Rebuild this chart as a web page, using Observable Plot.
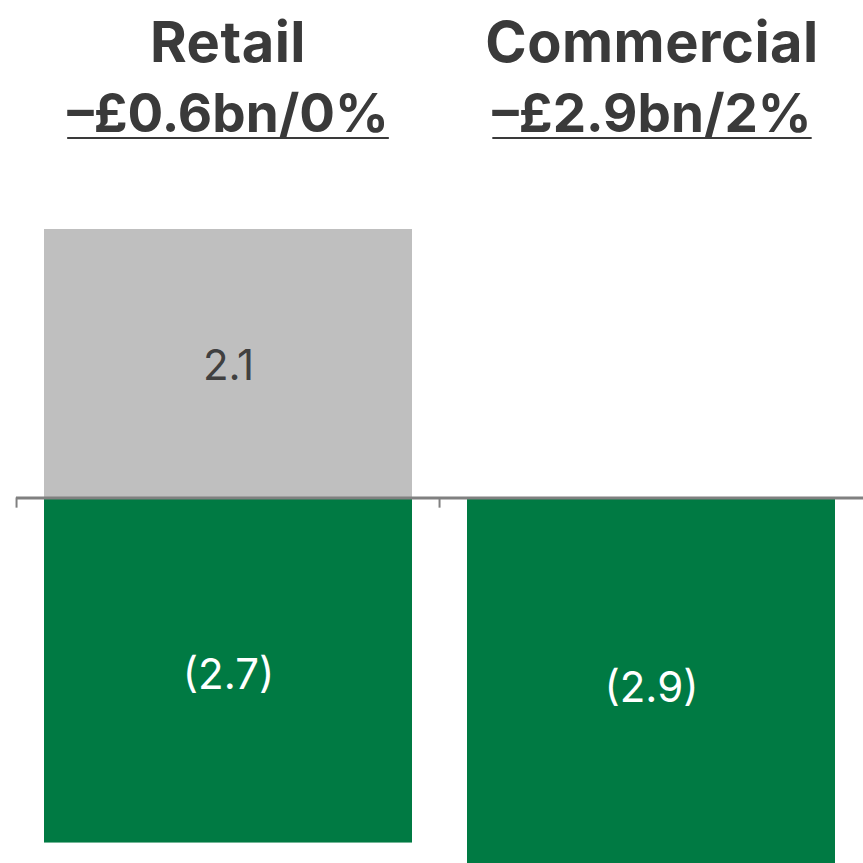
<!DOCTYPE html>
<html><head><meta charset="utf-8">
<script src="https://cdn.jsdelivr.net/npm/d3@7"></script>
<script src="https://cdn.jsdelivr.net/npm/@observablehq/plot@0.6"></script>
<style>
html,body{margin:0;padding:0;background:#fff;overflow:hidden}
#wrap{width:863px;height:863px;overflow:hidden}
#titles{display:flex;padding-left:16px;height:150px;box-sizing:border-box;padding-top:7px;font-family:Inter,sans-serif;font-weight:700;color:#3a3a3a;font-size:56px;letter-spacing:0.5px;line-height:70px}
#titles > div{width:424px;text-align:center;flex:none}
.sub{font-size:53px;letter-spacing:0;text-decoration:underline;text-decoration-thickness:2px;text-underline-offset:5px}
</style></head>
<body><div id="wrap"><div id="titles"></div><div id="chart"></div></div>
<script>
const categories = ["Retail", "Commercial"];
const totals = ["–£0.6bn/0%", "–£2.9bn/2%"];
const increases = [2.1, null];
const decreases = [-2.7, -2.9];

const titles = document.getElementById("titles");
categories.forEach((c, i) => {
  const d = document.createElement("div");
  const a = document.createElement("div"); a.textContent = c;
  const b = document.createElement("div"); const s = document.createElement("span");
  s.className = "sub"; s.textContent = totals[i]; b.appendChild(s);
  d.appendChild(a); d.appendChild(b); titles.appendChild(d);
});

const rows = categories.flatMap((c, i) => [
  {cat: c, value: increases[i], kind: "up"},
  {cat: c, value: decreases[i], kind: "down"}
]).filter(d => d.value != null);

const W = 863, mL = 16, mR = 0, pI = 0.13, pO = 0.064;
const step = (W - mL - mR) / (categories.length - pI + 2 * pO);
const fmt = v => v < 0 ? `(${Math.abs(v).toFixed(1)})` : v.toFixed(1);

const chart = Plot.plot({
  width: W, height: 713,
  marginTop: 79, marginBottom: 0, marginLeft: mL, marginRight: mR,
  style: {fontFamily: "Inter, sans-serif", background: "transparent"},
  x: {domain: categories, paddingInner: pI, paddingOuter: pO, axis: null},
  y: {domain: [-2.86, 2.1], axis: null},
  color: {domain: ["up", "down"], range: ["#bfbfbf", "#007a43"]},
  marks: [
    Plot.barY(rows, {x: "cat", y: "value", fill: "kind", clip: true}),
    Plot.ruleY([0], {stroke: "#808080", strokeWidth: 3}),
    Plot.ruleX(categories, {x: d => d, y1: 0, y2: -0.08, dx: -step / 2, stroke: "#808080", strokeWidth: 2}),
    Plot.text(rows.filter(d => d.value > 0), {x: "cat", y: d => d.value / 2, dy: 3, text: d => fmt(d.value), fill: "#404040", fontSize: 42, fontWeight: 400}),
    Plot.text(rows.filter(d => d.value < 0), {x: "cat", y: d => d.value / 2, dy: 5, text: d => fmt(d.value), fill: "white", fontSize: 42, fontWeight: 400})
  ]
});
document.getElementById("chart").appendChild(chart);
</script>
</body></html>
